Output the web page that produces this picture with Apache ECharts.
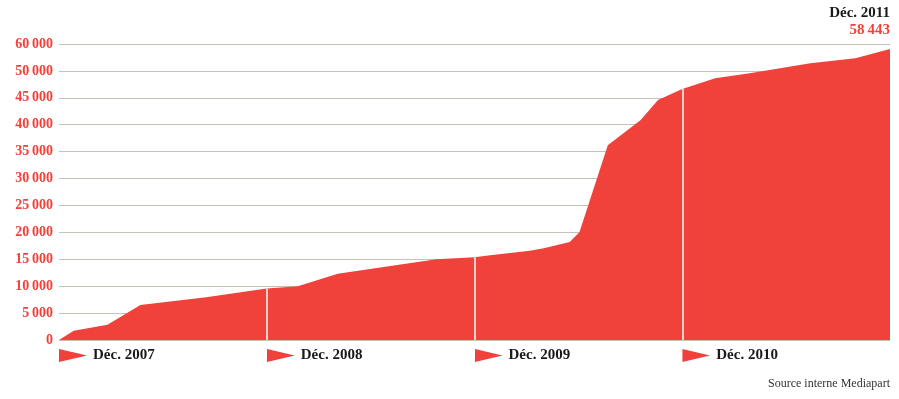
<!DOCTYPE html>
<html>
<head>
<meta charset="utf-8">
<script src="https://cdn.jsdelivr.net/npm/echarts@6/dist/echarts.min.js"></script>
<style>
  html, body { margin: 0; padding: 0; background: #fff; }
  #chart { width: 899px; height: 399px; }
</style>
</head>
<body>
<div id="chart"></div>
<script>
// abonnés, mois écoulés depuis déc. 2007
var months = [0, 0.85, 2.8, 4.7, 8.5, 12, 13.8, 16.1, 21.8, 24, 24.9, 27.2, 28, 29.5, 30.06, 31.7, 33.6, 34.6, 36, 37.9, 39.9, 43.4, 46, 48];
var subscribers = [0, 1730, 2850, 6500, 7940, 9550, 10000, 12320, 15000, 15370, 15740, 16600, 17040, 18200, 20020, 36190, 40900, 44610, 46650, 48640, 49570, 51430, 52360, 54090];

var xTickLabels = ['Déc. 2007', 'Déc. 2008', 'Déc. 2009', 'Déc. 2010', ''];
var yTickLabels = ['0', '5\u202f000', '10\u202f000', '15\u202f000', '20\u202f000', '25\u202f000', '30\u202f000',
  '35\u202f000', '40\u202f000', '45\u202f000', '50\u202f000', '60\u202f000'];
var yearMarks = [12, 24, 36];
var lastLabel = 'Déc. 2011';
var lastValue = '58\u202f443';

var red = '#f0413a';
var font = 'Liberation Serif';

var tri = 'data:image/svg+xml;charset=utf-8,' + encodeURIComponent(
  "<svg xmlns='http://www.w3.org/2000/svg' width='28' height='13'><path d='M0 0L28 6.5L0 13Z' fill='" + red + "'/></svg>");

// valeur de la courbe à un mois donné (pour les traits blancs)
function valueAt(m) {
  for (var i = 1; i < months.length; i++) {
    if (months[i] >= m) {
      var t = (m - months[i - 1]) / (months[i] - months[i - 1]);
      return subscribers[i - 1] + t * (subscribers[i] - subscribers[i - 1]);
    }
  }
  return subscribers[subscribers.length - 1];
}

var seriesData = months.map(function (m, i) { return [m, subscribers[i]]; });

var chart = echarts.init(document.getElementById('chart'), null, { renderer: 'canvas' });
chart.setOption({
  animation: false,
  title: [
    {
      text: lastLabel,
      right: 9,
      top: 6,
      padding: 0,
      textStyle: { fontFamily: font, fontSize: 15, fontWeight: 'bold', color: '#1a1a1a' }
    },
    {
      text: lastValue,
      right: 9,
      top: 23,
      padding: 0,
      textStyle: { fontFamily: font, fontSize: 15, fontWeight: 'bold', color: red }
    },
    {
      text: 'Source interne Mediapart',
      right: 9,
      bottom: 9,
      padding: 0,
      textStyle: { fontFamily: font, fontSize: 12, fontWeight: 'normal', color: '#333' }
    }
  ],
  grid: { left: 59, right: 9, top: 44, bottom: 59, containLabel: false },
  xAxis: {
    type: 'value',
    min: 0,
    max: 48,
    interval: 12,
    axisLine: { show: false },
    axisTick: { show: false },
    splitLine: { show: false },
    axisLabel: {
      align: 'left',
      margin: 8,
      formatter: function (v) {
        var s = xTickLabels[Math.round(v / 12)];
        return s ? '{tri|}{t|' + s + '}' : '';
      },
      rich: {
        tri: { width: 28, height: 13, verticalAlign: 'middle', backgroundColor: { image: tri } },
        t: { fontFamily: font, fontSize: 15, fontWeight: 'bold', color: '#1a1a1a',
             padding: [0, 0, 0, 6], lineHeight: 15, verticalAlign: 'middle' }
      }
    }
  },
  yAxis: {
    type: 'value',
    min: 0,
    max: 55000,
    interval: 5000,
    axisLine: { show: false },
    axisTick: { show: false },
    splitLine: { show: true, lineStyle: { color: '#c6c1b6', width: 1.2 } },
    axisLabel: {
      margin: 6,
      fontFamily: font,
      fontSize: 14,
      fontWeight: 'bold',
      color: red,
      formatter: function (v) { return yTickLabels[Math.round(v / 5000)]; }
    }
  },
  series: [{
    type: 'line',
    data: seriesData,
    symbol: 'none',
    lineStyle: { width: 0 },
    itemStyle: { color: red },
    areaStyle: { color: red, opacity: 1 },
    markLine: {
      silent: true,
      symbol: ['none', 'none'],
      label: { show: false },
      lineStyle: { color: '#fff', width: 1.5, type: 'solid' },
      data: yearMarks.map(function (m) {
        return [{ coord: [m, 0] }, { coord: [m, valueAt(m)] }];
      })
    }
  }]
});
</script>
</body>
</html>
